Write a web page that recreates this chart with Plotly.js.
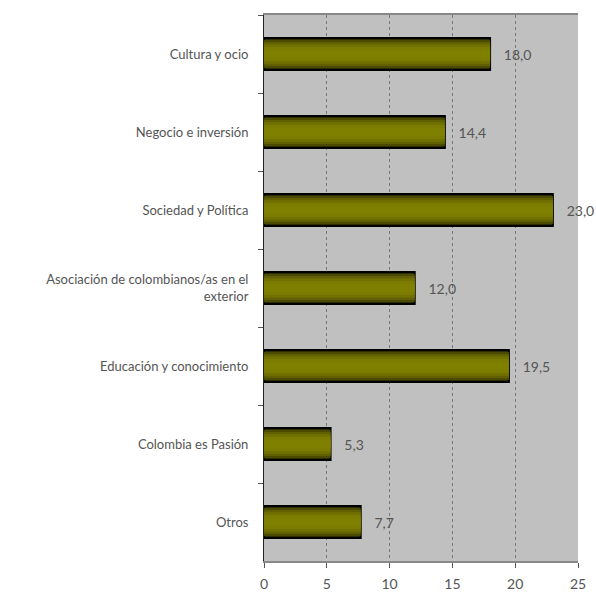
<!DOCTYPE html>
<html>
<head>
<meta charset="utf-8">
<script src="https://cdn.plot.ly/plotly-3.0.1.min.js"></script>
<style>html,body{margin:0;padding:0;background:#fff;}#chart{width:596px;height:594px;}</style>
</head>
<body>
<div id="chart"></div>
<script>
const categories = [
  "Cultura y ocio",
  "Negocio e inversión",
  "Sociedad y Política",
  "Asociación de colombianos/as en el<br>exterior",
  "Educación y conocimiento",
  "Colombia es Pasión",
  "Otros"
];
const values = [18.0, 14.4, 23.0, 12.0, 19.5, 5.3, 7.7];
const xTicks = [0, 5, 10, 15, 20, 25];

const labels = values.map(v => "   " + v.toFixed(1).replace(".", ","));

// layered bars to imitate the vertical gradient of the original
const layers = [
  {w: 0.41, c: "#2e2e00", line: 2},
  {w: 0.36, c: "#4a4a00", line: 0},
  {w: 0.31, c: "#606000", line: 0},
  {w: 0.25, c: "#717100", line: 0},
  {w: 0.18, c: "#7c7c00", line: 0},
  {w: 0.10, c: "#808000", line: 0}
];
const traces = layers.map((L, i) => ({
  type: "bar",
  orientation: "h",
  y: categories,
  x: values,
  width: L.w,
  marker: {color: L.c, line: {color: "#000", width: L.line}},
  text: i === 0 ? labels : undefined,
  textposition: i === 0 ? "outside" : "none",
  cliponaxis: false,
  textfont: {family: "Lato, 'DejaVu Sans', sans-serif", size: 14, color: "#555"},
  hoverinfo: "skip",
  showlegend: false
}));

const layout = {
  width: 596, height: 594,
  margin: {l: 264, r: 18, t: 15, b: 33},
  paper_bgcolor: "#ffffff",
  plot_bgcolor: "#c0c0c0",
  barmode: "overlay",
  font: {family: "Lato, 'DejaVu Sans', sans-serif", size: 13, color: "#555"},
  xaxis: {
    range: [0, 25],
    tickvals: xTicks,
    ticktext: xTicks.map(String),
    ticks: "outside", ticklen: 5, tickcolor: "#555",
    ticklabelstandoff: 4,
    showgrid: true, gridcolor: "#777", griddash: "dot", gridwidth: 1,
    showline: true, linecolor: "#888", linewidth: 2, mirror: true,
    zeroline: false,
    tickfont: {size: 14, color: "#555"}
  },
  yaxis: {
    type: "category",
    autorange: "reversed",
    ticks: "outside", tickson: "boundaries", ticklen: 5, tickcolor: "#555",
    showline: true, linecolor: "#222", linewidth: 1,
    showgrid: false, zeroline: false,
    ticklabelstandoff: 12,
    tickfont: {size: 13, color: "#555"}
  }
};

Plotly.newPlot("chart", traces, layout, {displayModeBar: false, staticPlot: true});
</script>
</body>
</html>
